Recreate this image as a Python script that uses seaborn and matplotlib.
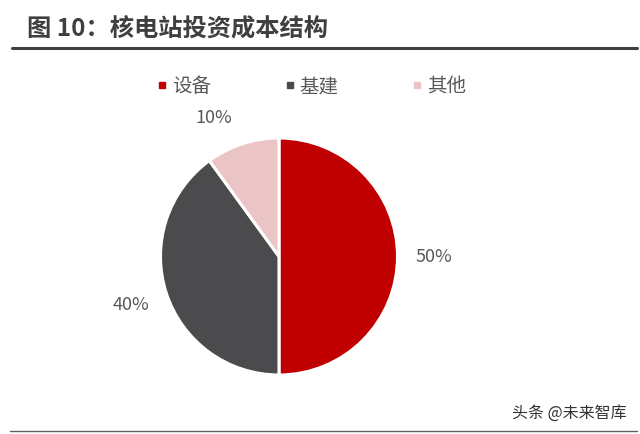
import matplotlib
matplotlib.use("Agg")
import numpy as np
import matplotlib.pyplot as plt
import seaborn as sns
from matplotlib.lines import Line2D

# data
categories = ["设备", "基建", "其他"]
shares = [50, 40, 10]
colors = ["#C00000", "#4B4B4D", "#EBC5C5"]

sns.set_theme(style="white")
plt.rcParams["font.family"] = ["Noto Sans CJK SC", "DejaVu Sans"]

fig = plt.figure(figsize=(6.4, 4.35), dpi=100)

# pie axes: centre ~ (279, 257) px, radius ~118 px
r_px = 118.5
lim = 1.2
size = 2 * r_px * lim
ax = fig.add_axes([(279 - size / 2) / 640, (435 - 257.5 - size / 2) / 435, size / 640, size / 435])
wedges, _, pcts = ax.pie(
    shares, colors=colors, startangle=90, counterclock=False,
    autopct="%.0f%%", pctdistance=1.31,
    wedgeprops=dict(edgecolor="white", linewidth=2.2),
    textprops=dict(color="#595959", fontsize=13),
)
# the small slice label sits a little further round in the original
a = np.deg2rad(115)
pcts[2].set_position((1.30 * np.cos(a), 1.30 * np.sin(a)))
ax.set_xlim(-lim, lim)
ax.set_ylim(-lim, lim)
ax.set_aspect("equal")
ax.axis("off")

# title and rules
fig.text(27 / 640, 1 - 29 / 435, "图 10：核电站投资成本结构", fontsize=17.5, fontweight="bold",
         color="#3F3F3F", va="center", ha="left")
fig.add_artist(Line2D([12 / 640, 637 / 640], [1 - 49 / 435] * 2, color="#404040", lw=2.2))
fig.add_artist(Line2D([10 / 640, 637 / 640], [1 - 432 / 435] * 2, color="#606060", lw=1))

# legend
handles = [Line2D([], [], marker="s", ls="none", color=c, markersize=4) for c in colors]
fig.legend(handles, categories, loc="center", bbox_to_anchor=(311 / 640, 1 - 87 / 435),
           ncol=3, frameon=False, handlelength=0.6, handletextpad=0.2,
           columnspacing=3.75, labelcolor="#595959", prop=dict(size=14))

# watermark
fig.text(627 / 640, 1 - 413 / 435, "头条 @未来智库", fontsize=11.5, color="#333333",
         ha="right", va="center")

fig.savefig("out.png", dpi=100)
